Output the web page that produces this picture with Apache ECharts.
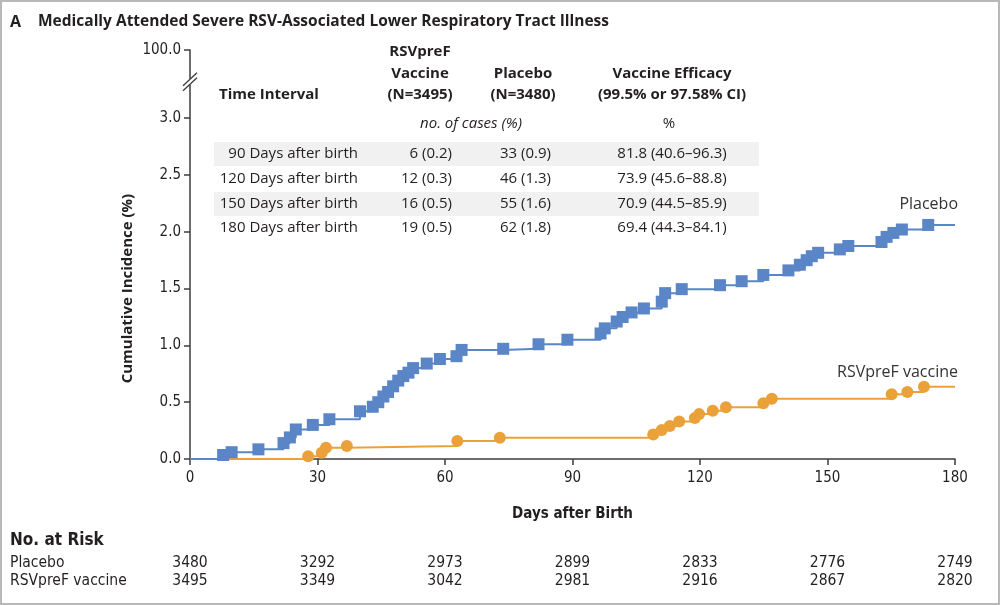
<!DOCTYPE html>
<html><head><meta charset="utf-8">
<script src="https://cdn.jsdelivr.net/npm/echarts@6.0.0/dist/echarts.min.js"></script>
<style>
html,body{margin:0;padding:0;background:#fff;}
#chart{position:absolute;left:0;top:0;width:1000px;height:605px;}
#frame{position:absolute;left:0;top:0;width:1000px;height:605px;box-sizing:border-box;border:2px solid #b8b8b8;pointer-events:none;}
</style></head>
<body><div id="chart"></div><div id="frame"></div>
<script>
// ---- data ----
const titleLetter = 'A';
const titleText = 'Medically Attended Severe RSV-Associated Lower Respiratory Tract Illness';
const placeboDays = [0, 7.8, 9.8, 16.1, 22.0, 23.5, 24.9, 28.9, 32.8, 40.0, 43.0, 44.3, 45.5, 46.6, 47.8, 49.0, 50.2, 51.4, 52.5, 55.7, 58.8, 62.7, 63.9, 73.7, 82.0, 88.8, 96.6, 97.6, 100.4, 101.8, 103.9, 106.8, 111.0, 111.8, 115.7, 124.7, 129.8, 134.9, 140.8, 143.5, 145.1, 146.3, 147.8, 152.9, 154.9, 162.7, 163.9, 165.5, 167.5, 173.7, 180];
const placeboPct  = [0, 0.035, 0.06, 0.085, 0.14, 0.19, 0.26, 0.30, 0.35, 0.42, 0.46, 0.50, 0.55, 0.59, 0.64, 0.69, 0.73, 0.76, 0.80, 0.84, 0.88, 0.905, 0.96, 0.97, 1.01, 1.05, 1.105, 1.15, 1.21, 1.25, 1.29, 1.325, 1.385, 1.46, 1.495, 1.53, 1.565, 1.62, 1.66, 1.71, 1.75, 1.785, 1.815, 1.845, 1.875, 1.91, 1.955, 1.99, 2.02, 2.06, 2.06];
const vaccineDays = [0, 27.8, 31.0, 32.0, 36.9, 62.9, 72.9, 109.0, 111.0, 112.9, 115.1, 118.8, 119.8, 123.0, 126.1, 134.9, 136.9, 165.1, 168.8, 172.7, 180];
const vaccinePct  = [0, 0.025, 0.055, 0.10, 0.115, 0.158, 0.187, 0.215, 0.255, 0.29, 0.33, 0.36, 0.395, 0.425, 0.455, 0.49, 0.53, 0.57, 0.59, 0.635, 0.635];
const xTicks = [0, 30, 60, 90, 120, 150, 180];
const yTicks = [0, 0.5, 1.0, 1.5, 2.0, 2.5, 3.0, 3.6];
const yTickLabels = ['0.0', '0.5', '1.0', '1.5', '2.0', '2.5', '3.0', '100.0'];
const riskNames = ['Placebo', 'RSVpreF vaccine'];
const riskPlacebo = [3480, 3292, 2973, 2899, 2833, 2776, 2749];
const riskVaccine = [3495, 3349, 3042, 2981, 2916, 2867, 2820];
const tableHeader = ['Time Interval', 'RSVpreF\nVaccine\n(N=3495)', 'Placebo\n(N=3480)', 'Vaccine Efficacy\n(99.5% or 97.58% CI)'];
const tableSub = ['no. of cases (%)', '%'];
const tableRows = [
  ['90 Days after birth', '6 (0.2)', '33 (0.9)', '81.8 (40.6\u201396.3)'],
  ['120 Days after birth', '12 (0.3)', '46 (1.3)', '73.9 (45.6\u201388.8)'],
  ['150 Days after birth', '16 (0.5)', '55 (1.6)', '70.9 (44.5\u201385.9)'],
  ['180 Days after birth', '19 (0.5)', '62 (1.8)', '69.4 (44.3\u201384.1)']
];
const seriesNames = ['Placebo', 'RSVpreF vaccine'];

// ---- styles ----
const BLUE = '#5a86c8', ORANGE = '#eba13a', INK = '#231f20';
const SANS = "'Open Sans', 'Noto Sans', sans-serif";
const NARROW = "'Liberation Sans Narrow', 'DejaVu Sans Condensed', sans-serif";

function mk(days, pct) {
  return days.map((d, i) => {
    const it = { value: [d, pct[i]] };
    if (i === 0 || i === days.length - 1) it.symbol = 'none';
    return it;
  });
}

const chart = echarts.init(document.getElementById('chart'), null, { renderer: 'canvas' });
const option = {
  animation: false,
  backgroundColor: '#fff',
  grid: { left: 190, right: 45, top: 50, bottom: 146, containLabel: false },
  xAxis: {
    type: 'value', min: 0, max: 180, interval: 30,
    axisLine: { show: true, lineStyle: { color: '#3c3c3c', width: 1.5 } },
    axisTick: { show: true, length: 6, lineStyle: { color: '#3c3c3c', width: 1.5 } },
    axisLabel: { fontSize: 15, color: INK, margin: 12, fontFamily: NARROW },
    splitLine: { show: false },
    name: 'Days after Birth', nameLocation: 'middle', nameGap: 48,
    nameTextStyle: { fontSize: 15, fontWeight: 'bold', color: INK, fontFamily: NARROW }
  },
  yAxis: {
    type: 'value', min: 0, max: 3.6,
    axisLine: { show: true, lineStyle: { color: '#3c3c3c', width: 1.5 } },
    axisTick: { show: true, length: 6, customValues: yTicks, lineStyle: { color: '#3c3c3c', width: 1.5 } },
    axisLabel: {
      customValues: yTicks, fontSize: 15, color: INK, margin: 9, fontFamily: NARROW,
      formatter: v => { const i = yTicks.findIndex(t => Math.abs(t - v) < 1e-6); return i >= 0 ? yTickLabels[i] : ''; }
    },
    splitLine: { show: false }
  },
  series: [
    {
      name: seriesNames[1], type: 'line', step: 'end', data: mk(vaccineDays, vaccinePct),
      symbol: 'circle', symbolSize: 12, showAllSymbol: true,
      lineStyle: { color: ORANGE, width: 2 }, itemStyle: { color: ORANGE }, z: 3
    },
    {
      name: seriesNames[0], type: 'line', step: 'end', data: mk(placeboDays, placeboPct),
      symbol: 'rect', symbolSize: 12, showAllSymbol: true,
      lineStyle: { color: BLUE, width: 2 }, itemStyle: { color: BLUE }, z: 4
    }
  ]
};
chart.setOption(option);

// ---- annotation text (graphic) ----
const px = (d, v) => chart.convertToPixel({ gridIndex: 0 }, [d, v]);
const g = [];
function txt(text, x, y, font, align, fill) {
  g.push({ type: 'text', silent: true, z: 10,
    style: { text, x, y, font, fill: fill || INK, align: align || 'left', verticalAlign: 'middle' } });
}
// title
txt(titleLetter, 10, 22, 'bold 16px ' + SANS);
txt(titleText, 38, 22, 'bold 15.5px ' + SANS);

// axis break marks near the top of the y axis
const bp = px(0, 3.32);
g.push({ type: 'rect', silent: true, z: 11, shape: { x: bp[0] - 3, y: bp[1] - 3, width: 6, height: 6 }, style: { fill: '#fff' } });
g.push({ type: 'line', silent: true, z: 12, shape: { x1: bp[0] - 7, y1: bp[1] + 9, x2: bp[0] + 7, y2: bp[1] - 4 }, style: { stroke: '#3c3c3c', lineWidth: 1.3 } });
g.push({ type: 'line', silent: true, z: 12, shape: { x1: bp[0] - 7, y1: bp[1] + 4, x2: bp[0] + 7, y2: bp[1] - 9 }, style: { stroke: '#3c3c3c', lineWidth: 1.3 } });

// y-axis title, centred on 0..3.0 range
const yc = (px(0, 0)[1] + px(0, 3.0)[1]) / 2;
g.push({ type: 'text', silent: true, z: 10, x: 128, y: yc, rotation: Math.PI / 2,
  style: { text: 'Cumulative Incidence (%)', font: 'bold 15px ' + SANS, fill: INK, align: 'center', verticalAlign: 'middle' } });

// table
const rowY = [154, 179, 204, 228];
[0, 2].forEach(i => g.push({ type: 'rect', silent: true, z: 1, shape: { x: 214, y: rowY[i] - 12, width: 545, height: 24 }, style: { fill: '#f1f1f1' } }));
const hdrFont = 'bold 15px ' + SANS;
txt(tableHeader[0], 219, 95, hdrFont);
tableHeader[1].split('\n').forEach((s, i) => txt(s, 420, 52 + i * 21.5, hdrFont, 'center'));
tableHeader[2].split('\n').forEach((s, i) => txt(s, 523, 73.5 + i * 21.5, hdrFont, 'center'));
tableHeader[3].split('\n').forEach((s, i) => txt(s, 672, 73.5 + i * 21.5, hdrFont, 'center'));
txt(tableSub[0], 471, 124, 'italic 15px ' + SANS, 'center');
txt(tableSub[1], 669, 124, '15px ' + SANS, 'center');
const cellFont = '15px ' + SANS;
tableRows.forEach((r, i) => {
  txt(r[0], 358, rowY[i], cellFont, 'right');
  txt(r[1], 452, rowY[i], cellFont, 'right');
  txt(r[2], 551, rowY[i], cellFont, 'right');
  txt(r[3], 672, rowY[i], cellFont, 'center');
});

// series labels
txt(seriesNames[0], 958, 204, '16px ' + SANS, 'right', '#333');
txt(seriesNames[1], 958, 372, '16px ' + SANS, 'right', '#333');

// risk table
txt('No. at Risk', 10, 541, 'bold 17px ' + NARROW);
const riskFont = '15.5px ' + NARROW;
txt(riskNames[0], 10, 563, riskFont);
txt(riskNames[1], 10, 581, riskFont);
xTicks.forEach((d, i) => {
  const x = px(d, 0)[0];
  txt(String(riskPlacebo[i]), x, 563, riskFont, 'center');
  txt(String(riskVaccine[i]), x, 581, riskFont, 'center');
});

chart.setOption({ graphic: { elements: g } });
</script>
</body></html>
